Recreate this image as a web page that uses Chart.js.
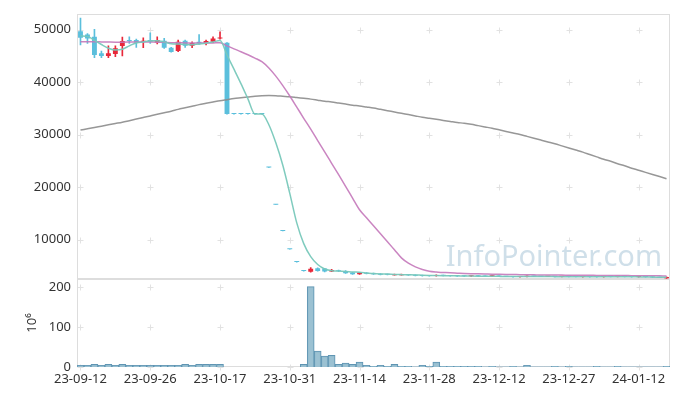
<!DOCTYPE html>
<html>
<head>
<meta charset="utf-8">
<script src="https://cdn.jsdelivr.net/npm/chart.js@4.4.1/dist/chart.umd.min.js"></script>
<style>
  html, body { margin: 0; padding: 0; background: #fff; }
  #wrap { width: 680px; height: 396px; }
</style>
</head>
<body>
<div id="wrap"><canvas id="chart"></canvas></div>
<script>
const dates = [
  '23-09-12','23-09-13','23-09-14','23-09-15','23-09-18','23-09-19','23-09-20','23-09-21','23-09-22','23-09-25',
  '23-09-26','23-09-27','23-10-04','23-10-05','23-10-06','23-10-10','23-10-11','23-10-12','23-10-13','23-10-16',
  '23-10-17','23-10-18','23-10-19','23-10-20','23-10-23','23-10-24','23-10-25','23-10-26','23-10-27','23-10-30',
  '23-10-31','23-11-01','23-11-02','23-11-03','23-11-06','23-11-07','23-11-08','23-11-09','23-11-10','23-11-13',
  '23-11-14','23-11-15','23-11-16','23-11-17','23-11-20','23-11-21','23-11-22','23-11-23','23-11-24','23-11-27',
  '23-11-28','23-11-29','23-11-30','23-12-01','23-12-04','23-12-05','23-12-06','23-12-07','23-12-08','23-12-11',
  '23-12-12','23-12-13','23-12-14','23-12-15','23-12-18','23-12-19','23-12-20','23-12-21','23-12-22','23-12-26',
  '23-12-27','23-12-28','24-01-02','24-01-03','24-01-04','24-01-05','24-01-08','24-01-09','24-01-10','24-01-11',
  '24-01-12','24-01-15','24-01-16','24-01-17','24-01-18'
];
const tickDates = ['23-09-12','23-09-26','23-10-17','23-10-31','23-11-14','23-11-28','23-12-12','23-12-27','24-01-12'];
const priceTicks = [10000, 20000, 30000, 40000, 50000];
const volumeTicks = [0, 100, 200];

const opens = [
  49690,49060,48620,45480,44980,45350,46860,47990,47990,47680,
  47990,47550,47870,46550,45920,47870,46920,47680,47430,47680,
  48310,47500,33900,33900,33900,33900,33900,23750,16630,11640,
  8150,5710,4000,3850,4530,4470,3900,4150,4030,3720,
  3410,3650,3590,3470,3400,3220,3220,3350,3280,3220,
  3150,3080,3200,3150,3100,3060,2990,3110,3060,2990,
  3050,3000,2990,2880,2900,3030,2980,2930,3000,2920,
  3000,2960,2880,2990,2950,2880,2970,2900,2990,2950,
  2870,2960,2900,2830,2620
];
const highs = [
  52200,49250,50060,45920,46920,46920,48560,48620,48180,48430,
  49370,48620,48310,46600,47990,47990,47680,49060,47990,48620,
  49560,47500,33900,33900,33900,33900,33900,23750,16630,11640,
  8150,5710,4000,4650,4600,4500,4350,4200,4080,3760,
  3780,3700,3620,3500,3420,3430,3420,3380,3300,3240,
  3180,3300,3230,3180,3130,3090,3140,3130,3080,3080,
  3070,3020,3010,2990,3070,3050,3000,3020,3020,3010,
  3020,2980,3000,3010,2970,3000,2990,3010,3010,2970,
  2970,2980,2920,2850,2900
];
const lows = [
  47050,47360,44660,44660,44660,44850,44980,47360,46610,46550,
  47360,47240,46420,45700,45790,46610,46550,47180,47050,47490,
  48180,33900,33900,33900,33900,33900,33900,23750,16630,11640,
  8150,5710,4000,3800,3980,3850,3880,3900,3570,3380,
  3380,3450,3380,3260,3250,3200,3200,3180,3080,3040,
  3040,3040,3080,3040,2970,2980,2970,2980,2960,2970,
  2940,2920,2860,2860,2880,2930,2910,2910,2900,2900,
  2880,2870,2860,2860,2860,2860,2880,2880,2880,2860,
  2850,2840,2770,2720,2600
];
const closes = [
  48430,48300,45170,44980,45480,46420,47800,47800,47490,47870,
  47680,47990,46550,45730,47680,46920,47430,47360,47800,48310,
  48400,33900,33900,33900,33900,33900,33900,23750,16630,11640,
  8150,5710,4000,4450,4030,3900,4220,3950,3600,3410,
  3720,3480,3400,3280,3280,3400,3400,3200,3100,3060,
  3060,3220,3100,3060,2990,3000,3120,3000,2980,3060,
  2960,2940,2880,2970,3050,2950,2930,3000,2920,2990,
  2900,2890,2980,2880,2880,2980,2900,2990,2900,2880,
  2950,2860,2790,2740,2880
];
// volume in millions of shares
const volumes = [
  4,4,6.5,4,6.5,4,6.5,4,4,4,
  4,4,4,4,4,6.5,4,6.5,6.5,6.5,
  6.5,0,0,0,0,0,0,0,0,0,
  0,0,6.5,201,39.5,27,29,6.5,9.5,6.5,
  12,4,1.5,4,1.5,6.5,1.5,1.5,0.5,4,
  1.5,12,1.5,1.5,1.5,1.5,1.5,1.5,0.5,1.5,
  0.5,0.5,1.5,0.5,4,0.5,0.5,0.5,1.5,0.5,
  1.5,0.5,0.5,0.5,1.5,0.5,0.5,1.5,0.5,0.5,
  0.5,0.5,0.5,0.5,1.5
];
const ma5 = [
  48800,48700,47950,47150,46450,46100,46250,46900,47450,47650,
  47850,47850,47650,47300,47250,47150,47100,47250,47400,47650,
  47900,45150,42450,39700,36800,33900,33900,31870,28420,24160,
  18810,13180,9230,6760,5250,4400,4080,3990,3930,3830,
  3770,3650,3530,3460,3430,3360,3320,3290,3260,3210,
  3170,3140,3120,3110,3090,3070,3050,3030,3010,3000,
  2990,2980,2960,2950,2950,2950,2950,2950,2940,2930,
  2925,2920,2915,2910,2900,2905,2905,2905,2905,2900,
  2890,2880,2860,2830,2810
];
const ma20 = [
  47700,47700,47680,47650,47620,47600,47600,47620,47650,47650,
  47620,47600,47560,47500,47480,47450,47430,47420,47420,47450,
  47500,46900,46330,45780,45200,44570,43880,42680,41130,39320,
  37340,35230,33100,31030,28850,26700,24530,22360,20150,17910,
  15670,14150,12630,11100,9580,8050,6520,5500,4800,4300,
  3950,3800,3730,3660,3600,3540,3500,3470,3440,3410,
  3390,3370,3350,3320,3300,3280,3260,3250,3240,3230,
  3220,3210,3200,3190,3180,3170,3160,3150,3140,3130,
  3120,3110,3100,3090,3080
];
const ma120 = [
  30850,31100,31350,31600,31850,32100,32350,32650,32950,33250,
  33550,33850,34150,34450,34800,35100,35400,35700,35950,36200,
  36450,36650,36850,37000,37150,37300,37400,37450,37400,37300,
  37200,37050,36900,36750,36550,36350,36200,36000,35800,35600,
  35450,35250,35050,34800,34550,34300,34050,33800,33550,33300,
  33100,32900,32700,32500,32300,32150,31950,31700,31450,31200,
  30900,30600,30300,30000,29650,29300,28950,28600,28250,27850,
  27450,27050,26650,26200,25750,25300,24900,24450,24050,23600,
  23200,22800,22400,22000,21600
];

const UP = '#e8283a'
const DOWN = '#5bbfdc'

const candleColors = closes.map((c, i) => c > opens[i] ? UP : DOWN)
const bodies = opens.map((o, i) => [o, closes[i]])
const wicks = lows.map((l, i) => [l, highs[i]])

Chart.defaults.font.family = '"Noto Sans", sans-serif'
Chart.defaults.font.size = 13
Chart.defaults.color = '#333'

// frame, grid crosses and watermark, drawn from the scales
const panelPlugin = {
  id: 'panelPlugin',
  beforeDatasetsDraw(chart) {
    const { ctx, chartArea, scales } = chart
    const xs = scales.x
    ctx.save()

    ctx.font = '29px "Noto Sans", sans-serif'
    ctx.fillStyle = '#cfdfe9'
    ctx.textAlign = 'right'
    ctx.textBaseline = 'alphabetic'
    ctx.fillText('InfoPointer.com', chartArea.right - 8, scales.y.bottom - 13)

    ctx.strokeStyle = '#e2e2e2'
    ctx.lineWidth = 1
    ;[scales.y, scales.yVol].forEach(s => {
      s.ticks.forEach(t => {
        const py = Math.round(s.getPixelForValue(t.value)) + 0.5
        dates.forEach((d, i) => {
          if (!tickDates.includes(d)) return
          const px = Math.round(xs.getPixelForValue(i)) + 0.5
          ctx.beginPath()
          ctx.moveTo(px - 3, py)
          ctx.lineTo(px + 3, py)
          ctx.moveTo(px, py - 3)
          ctx.lineTo(px, py + 3)
          ctx.stroke()
        })
      })
    })

    ctx.strokeStyle = '#dddddd'
    ;[scales.y, scales.yVol].forEach(s => {
      ctx.strokeRect(chartArea.left + 0.5, Math.round(s.top) + 0.5,
        chartArea.width - 1, Math.round(s.bottom - s.top) - 1)
    })
    ctx.restore()
  }
}

new Chart(document.getElementById('chart'), {
  type: 'bar',
  data: {
    labels: dates,
    datasets: [
      {
        type: 'line', label: 'MA5', data: ma5, yAxisID: 'y', order: 0,
        borderColor: 'rgba(120,200,186,0.95)', borderWidth: 1.5,
        pointRadius: 0, cubicInterpolationMode: 'monotone'
      },
      {
        type: 'line', label: 'MA20', data: ma20, yAxisID: 'y', order: 0,
        borderColor: 'rgba(196,120,186,0.9)', borderWidth: 1.5,
        pointRadius: 0, cubicInterpolationMode: 'monotone'
      },
      {
        type: 'line', label: 'MA120', data: ma120, yAxisID: 'y', order: 0,
        borderColor: 'rgba(140,140,140,0.9)', borderWidth: 1.5,
        pointRadius: 0, cubicInterpolationMode: 'monotone'
      },
      {
        label: 'body', data: bodies, yAxisID: 'y', order: 1,
        backgroundColor: candleColors, grouped: false,
        barPercentage: 0.7, categoryPercentage: 1, minBarLength: 1
      },
      {
        label: 'wick', data: wicks, yAxisID: 'y', order: 2,
        backgroundColor: candleColors, grouped: false,
        barThickness: 1
      },
      {
        label: 'volume', data: volumes, yAxisID: 'yVol', order: 3,
        backgroundColor: 'rgba(150,190,208,0.95)', borderColor: '#5f95b3',
        borderWidth: 1, grouped: false,
        barPercentage: 1, categoryPercentage: 1
      }
    ]
  },
  options: {
    responsive: true,
    maintainAspectRatio: false,
    animation: false,
    events: [],
    layout: { padding: { left: 0, right: 10, top: 10, bottom: 0 } },
    plugins: {
      legend: { display: false },
      tooltip: { enabled: false }
    },
    scales: {
      x: {
        type: 'category',
        grid: { display: false, drawTicks: false },
        border: { display: false },
        ticks: {
          autoSkip: false,
          maxRotation: 0,
          padding: 4,
          color: '#333',
          callback: (v, i) => tickDates.includes(dates[i]) ? dates[i] : ''
        },
        afterFit: s => { s.height = 29 }
      },
      yVol: {
        position: 'left',
        stack: 'panels',
        stackWeight: 89,
        min: 0,
        max: 220,
        grid: { display: false, drawTicks: false },
        border: { display: false },
        ticks: { padding: 6, color: '#333', callback: v => String(v) },
        afterBuildTicks: s => { s.ticks = volumeTicks.map(v => ({ value: v })) },
        title: { display: true, text: '10⁶', color: '#333', font: { size: 13 }, padding: { top: 24, bottom: 0 } },
        afterFit: s => { s.width = 77 }
      },
      y: {
        position: 'left',
        stack: 'panels',
        stackWeight: 268,
        min: 2500,
        max: 53000,
        grid: { display: false, drawTicks: false },
        border: { display: false },
        ticks: { padding: 6, color: '#333', callback: v => String(v) },
        afterBuildTicks: s => { s.ticks = priceTicks.map(v => ({ value: v })) },
        afterFit: s => { s.width = 77 }
      }
    }
  },
  plugins: [panelPlugin]
})
</script>
</body>
</html>
